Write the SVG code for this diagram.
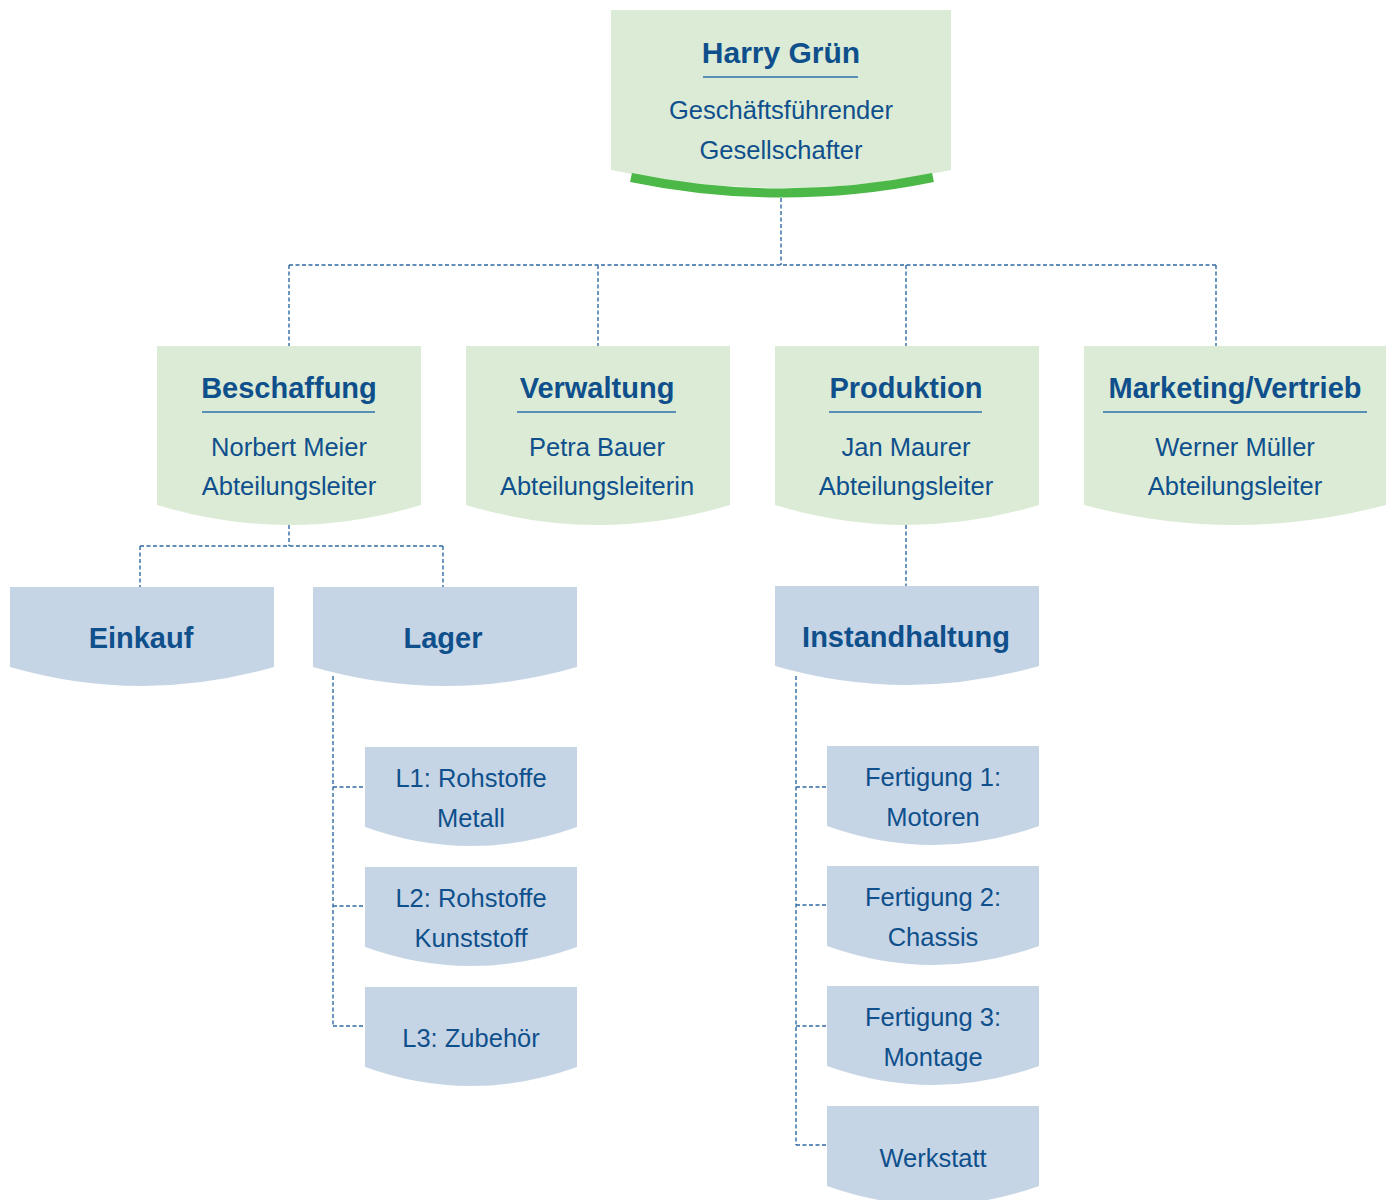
<svg xmlns="http://www.w3.org/2000/svg" width="1387" height="1200" viewBox="0 0 1387 1200">
<style>
.g{fill:#dcebd6}
.b{fill:#c6d5e5}
text{font-family:"Liberation Sans",Arial,sans-serif;fill:#0f508c;text-anchor:middle}
.t{font-size:29px;font-weight:bold}
.s{font-size:25.5px}
.u{stroke:#2d6fae;stroke-width:1.5;fill:none}
.c{stroke:#2f6aa3;stroke-width:1.4;stroke-dasharray:4 2.5;fill:none}
</style>
<rect width="1387" height="1200" fill="#fff"/>
<g id="connectors">
<path class="c" d="M781,198V265M289,265H1216M289,265V346M598,265V346M906,265V346M1216,265V346"/>
<path class="c" d="M289,525V546M140,546H443M140,546V587M443,546V587"/>
<path class="c" d="M906,525V586"/>
<path class="c" d="M333,676V1026M333,787H365M333,906H365M333,1026H365"/>
<path class="c" d="M796,676V1145M796,787H827M796,905H827M796,1026H827M796,1145H827"/>
</g>
<g id="harry">
<path class="g" d="M611,10H951V170Q781,206 611,170Z"/>
<path d="M631,177.5Q781,208.5 933,177.5" stroke="#4cb848" stroke-width="9" fill="none"/>
<text class="t" x="781" y="63" style="font-size:30px">Harry Grün</text>
<line class="u" x1="703" y1="77" x2="858" y2="77"/>
<text class="s" x="781" y="119">Geschäftsführender</text>
<text class="s" x="781" y="159">Gesellschafter</text>
</g>
<g id="beschaffung">
<path class="g" d="M157,346H421V505Q289,545 157,505Z"/>
<text class="t" x="289" y="398">Beschaffung</text>
<line class="u" x1="202" y1="412" x2="375" y2="412"/>
<text class="s" x="289" y="456">Norbert Meier</text>
<text class="s" x="289" y="495">Abteilungsleiter</text>
</g>
<g id="verwaltung">
<path class="g" d="M466,346H730V505Q598,545 466,505Z"/>
<text class="t" x="597" y="398">Verwaltung</text>
<line class="u" x1="517" y1="412" x2="676" y2="412"/>
<text class="s" x="597" y="456">Petra Bauer</text>
<text class="s" x="597" y="495">Abteilungsleiterin</text>
</g>
<g id="produktion">
<path class="g" d="M775,346H1039V505Q907,545 775,505Z"/>
<text class="t" x="906" y="398">Produktion</text>
<line class="u" x1="829" y1="412" x2="982" y2="412"/>
<text class="s" x="906" y="456">Jan Maurer</text>
<text class="s" x="906" y="495">Abteilungsleiter</text>
</g>
<g id="marketing">
<path class="g" d="M1084,346H1386V505Q1235,545 1084,505Z"/>
<text class="t" x="1235" y="398">Marketing/Vertrieb</text>
<line class="u" x1="1103" y1="412" x2="1367" y2="412"/>
<text class="s" x="1235" y="456">Werner Müller</text>
<text class="s" x="1235" y="495">Abteilungsleiter</text>
</g>
<g id="einkauf">
<path class="b" d="M10,587H274V667Q142,705 10,667Z"/>
<text class="t" x="141" y="648">Einkauf</text>
</g>
<g id="lager">
<path class="b" d="M313,587H577V667Q445,705 313,667Z"/>
<text class="t" x="443" y="648">Lager</text>
</g>
<g id="instandhaltung">
<path class="b" d="M775,586H1039V666Q907,704 775,666Z"/>
<text class="t" x="906" y="647">Instandhaltung</text>
</g>
<g id="l1">
<path class="b" d="M365,747H577V827Q471,865 365,827Z"/>
<text class="s" x="471" y="787">L1: Rohstoffe</text>
<text class="s" x="471" y="827">Metall</text>
</g>
<g id="l2">
<path class="b" d="M365,867H577V947Q471,985 365,947Z"/>
<text class="s" x="471" y="907">L2: Rohstoffe</text>
<text class="s" x="471" y="947">Kunststoff</text>
</g>
<g id="l3">
<path class="b" d="M365,987H577V1067Q471,1105 365,1067Z"/>
<text class="s" x="471" y="1047">L3: Zubehör</text>
</g>
<g id="fertigung1">
<path class="b" d="M827,746H1039V826Q933,864 827,826Z"/>
<text class="s" x="933" y="786">Fertigung 1:</text>
<text class="s" x="933" y="826">Motoren</text>
</g>
<g id="fertigung2">
<path class="b" d="M827,866H1039V946Q933,984 827,946Z"/>
<text class="s" x="933" y="906">Fertigung 2:</text>
<text class="s" x="933" y="946">Chassis</text>
</g>
<g id="fertigung3">
<path class="b" d="M827,986H1039V1066Q933,1104 827,1066Z"/>
<text class="s" x="933" y="1026">Fertigung 3:</text>
<text class="s" x="933" y="1066">Montage</text>
</g>
<g id="werkstatt">
<path class="b" d="M827,1106H1039V1186Q933,1224 827,1186Z"/>
<text class="s" x="933" y="1167">Werkstatt</text>
</g>
</svg>
